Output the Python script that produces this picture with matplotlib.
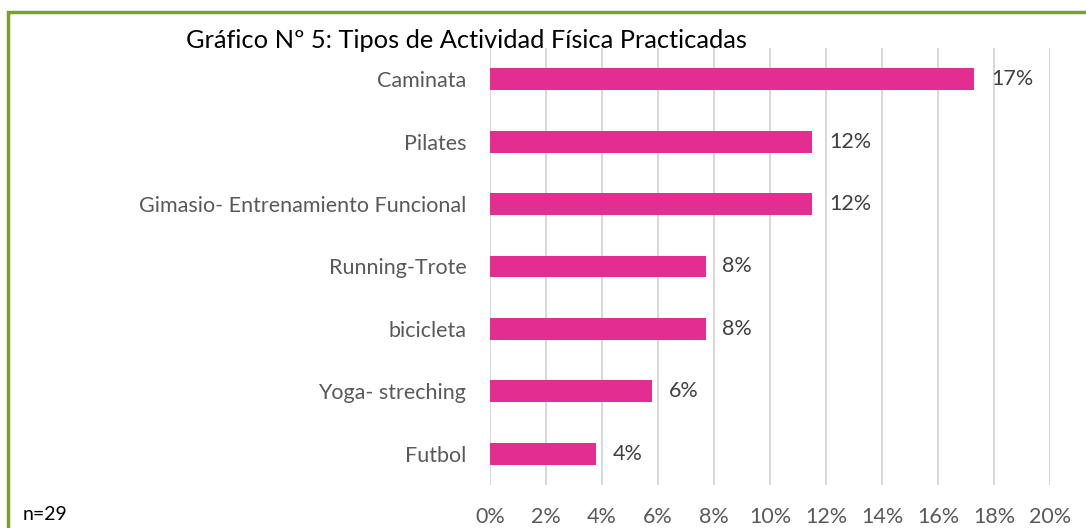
import matplotlib.pyplot as plt
from matplotlib.patches import Rectangle

plt.rcParams['font.family'] = ['Lato', 'DejaVu Sans']

# data (percent of responses)
activities = ['Caminata', 'Pilates', 'Gimasio- Entrenamiento Funcional',
              'Running-Trote', 'bicicleta', 'Yoga- streching', 'Futbol']
values = [17.3, 11.5, 11.5, 7.7, 7.7, 5.8, 3.8]
xticks = [0, 2, 4, 6, 8, 10, 12, 14, 16, 18, 20]

bar_color = '#E32D91'
text_gray = '#595959'

fig = plt.figure(figsize=(10.86, 5.28), dpi=100)
ax = fig.add_axes([490/1086, 1 - 485/528, 560/1086, 437/528])

y = list(range(len(activities)))[::-1]
ax.barh(y, values, height=0.35, color=bar_color, zorder=3)

for yi, v in zip(y, values):
    ax.text(v + 0.6, yi, f'{v:.0f}%', va='center', ha='left',
            fontsize=15.5, color='#404040')

ax.set_xlim(0, 20)
ax.set_ylim(-0.5, len(activities) - 0.5)
ax.set_xticks(xticks)
ax.set_xticklabels([f'{t}%' for t in xticks])
ax.set_yticks(y)
ax.set_yticklabels(activities)
ax.tick_params(axis='both', length=0, labelsize=15.5, colors=text_gray)
ax.tick_params(axis='y', pad=17)
ax.tick_params(axis='x', pad=16)
ax.grid(axis='x', color='#D9D9D9', linewidth=1.5, zorder=0)
for s in ax.spines.values():
    s.set_visible(False)

fig.text(186/1086, 1 - 40/528, 'Gráfico Nº 5: Tipos de Actividad Física Practicadas',
         ha='left', va='center', fontsize=18.3, color='black')
fig.text(23/1086, 1 - 515/528, 'n=29', ha='left', va='center',
         fontsize=14, color='black')

# green frame around the chart
fig.patches.append(Rectangle((8/1086, -0.1), 1.2, 1 - 12/528 + 0.1,
                             transform=fig.transFigure, fill=False,
                             edgecolor='#77A22F', linewidth=2.5))

fig.savefig('out.png', dpi=100)
